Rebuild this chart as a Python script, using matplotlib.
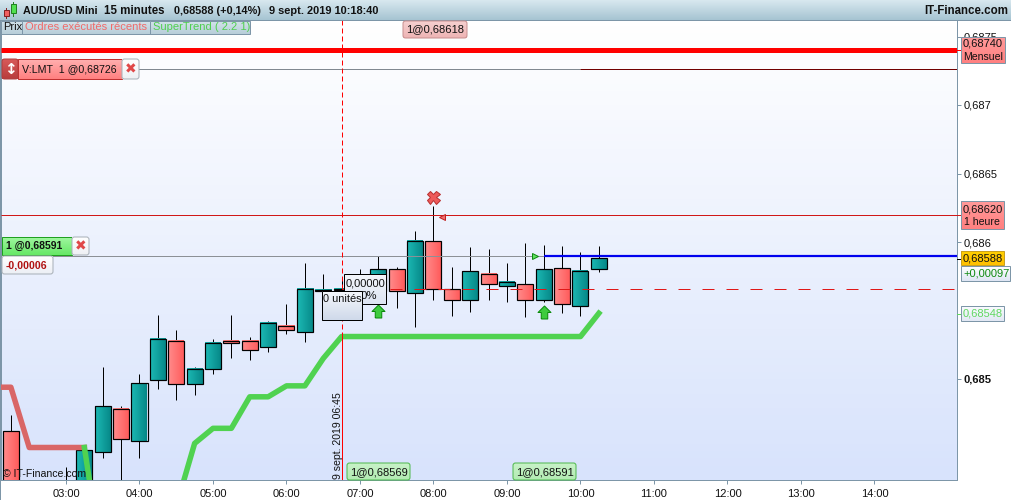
import numpy as np
import matplotlib
matplotlib.use('Agg')
import matplotlib.pyplot as plt
from matplotlib.colors import LinearSegmentedColormap
from matplotlib.patches import FancyBboxPatch, Rectangle
from matplotlib.path import Path

plt.rcParams['font.family'] = ['Liberation Sans', 'DejaVu Sans']

# candles
times = ['02:15', '03:00', '03:15', '03:30', '03:45', '04:00', '04:15', '04:30', '04:45', '05:00',
         '05:15', '05:30', '05:45', '06:00', '06:15', '06:30', '06:45', '07:00', '07:15', '07:30',
         '07:45', '08:00', '08:15', '08:30', '08:45', '09:00', '09:15', '09:30', '09:45', '10:00', '10:15']
opens = [0.68462, 0.68412, 0.68412, 0.68447, 0.68478, 0.68455, 0.68499, 0.68528, 0.68496, 0.68507,
         0.68528, 0.68528, 0.68523, 0.68539, 0.68534, 0.68564, 0.68565, 0.68561, 0.68564, 0.68580,
         0.68563, 0.68601, 0.68566, 0.68558, 0.68577, 0.68568, 0.68569, 0.68558, 0.68581, 0.68553, 0.68580]
highs = [0.68474, 0.68436, 0.68448, 0.68509, 0.68480, 0.68504, 0.68547, 0.68536, 0.68509, 0.68529,
         0.68547, 0.68531, 0.68542, 0.68555, 0.68585, 0.68577, 0.68572, 0.68580, 0.68590, 0.68582,
         0.68608, 0.68626, 0.68582, 0.68596, 0.68595, 0.68585, 0.68599, 0.68598, 0.68597, 0.68593, 0.68597]
lows = [0.68404, 0.68404, 0.68405, 0.68442, 0.68419, 0.68442, 0.68493, 0.68485, 0.68488, 0.68504,
        0.68515, 0.68514, 0.68520, 0.68533, 0.68527, 0.68545, 0.68547, 0.68547, 0.68558, 0.68552,
        0.68538, 0.68558, 0.68546, 0.68549, 0.68558, 0.68556, 0.68545, 0.68556, 0.68548, 0.68546, 0.68578]
closes = [0.68412, 0.68419, 0.68448, 0.68480, 0.68456, 0.68497, 0.68529, 0.68496, 0.68507, 0.68526,
          0.68526, 0.68521, 0.68541, 0.68536, 0.68566, 0.68565, 0.68566, 0.68574, 0.68580, 0.68564,
          0.68601, 0.68566, 0.68558, 0.68579, 0.68569, 0.68571, 0.68558, 0.68580, 0.68555, 0.68579, 0.68588]

# supertrend
st_red_times = ['02:00', '02:15', '02:30', '02:45', '03:00', '03:15']
st_red_vals = [0.68494, 0.68494, 0.68450, 0.68450, 0.68450, 0.68450]
st_green_times = ['03:15', '03:30', '03:45', '04:00', '04:15', '04:30', '04:45', '05:00', '05:15', '05:30',
                  '05:45', '06:00', '06:15', '06:30', '06:45', '07:00', '08:00', '09:00', '10:00', '10:15']
st_green_vals = [0.68450, 0.68363, 0.68363, 0.68363, 0.68363, 0.68407, 0.68453, 0.68464, 0.68464, 0.68487,
                 0.68487, 0.68495, 0.68495, 0.68515, 0.68531, 0.68531, 0.68531, 0.68531, 0.68531, 0.68548]

# levels
monthly_level = 0.68740
order_level = 0.68726
hourly_level = 0.68620
position_level = 0.68590
dashed_level = 0.68566
cursor_time = '06:45'
buy_arrow_times = ['07:15', '09:30']
buy_arrow_prices = [0.68550, 0.68549]
cross_time = ['08:00']
cross_price = [0.68633]
sell_tri_time = ['08:07']
sell_tri_price = [0.68618]
buy_tri_time = ['09:23']
buy_tri_price = [0.68590]

hour_ticks = ['03:00', '04:00', '05:00', '06:00', '07:00', '08:00', '09:00', '10:00', '11:00', '12:00', '13:00', '14:00']
price_ticks = [0.6875, 0.687, 0.6865, 0.686, 0.685]
price_tick_labels = ['0,6875', '0,687', '0,6865', '0,686', '0,685']

PX = 0.72
FRAME = '#7d96a8'


def hours(t):
    h, m = t.split(':')
    return int(h) + int(m) / 60.0


def hh(lst):
    return [hours(t) for t in lst]


def cmap2(c1, c2):
    return LinearSegmentedColormap.from_list('g', [c1, c2])


H_GRAD = np.linspace(0, 1, 32).reshape(1, -1)
V_GRAD = np.linspace(0, 1, 64).reshape(-1, 1)

fig = plt.figure(figsize=(10.12, 5.0), dpi=100, facecolor='white')
ax = fig.add_axes([1 / 1012, 20 / 500, 956 / 1012, 460 / 500])
ax.imshow(V_GRAD, cmap=cmap2('#ffffff', '#d8e3fc'), extent=(0, 1, 0, 1), transform=ax.transAxes,
          aspect='auto', zorder=0)

body_w = 16 / 73.5
teal = cmap2('#1cb9b4', '#068888')
red = cmap2('#ff8c8c', '#ff5c5c')
for t, o, h, l, c in zip(times, opens, highs, lows, closes):
    x = hours(t)
    ax.plot([x, x], [l, h], color='black', lw=1 * PX, zorder=2, solid_capstyle='butt')
    lo, hi = min(o, c), max(o, c)
    cm = teal if c >= o else red
    ax.imshow(H_GRAD, cmap=cm, extent=(x - body_w / 2, x + body_w / 2, lo, hi), aspect='auto', zorder=3)
    ax.add_patch(Rectangle((x - body_w / 2, lo), body_w, hi - lo, fill=False, ec='black', lw=1.2 * PX, zorder=3))

ax.plot(hh(st_red_times), st_red_vals, color='#d96666', lw=5.5 * PX, zorder=4)
ax.plot(hh(st_green_times), st_green_vals, color='#50d250', lw=5.5 * PX, zorder=4)

x_left, x_right = 3 - 65 / 73.5, 3 + 891 / 73.5
ax.hlines(monthly_level, x_left, x_right, color='#ff0000', lw=5 * PX, zorder=5)
ax.hlines(order_level, x_left, 10.0, color='#808890', lw=1 * PX, zorder=5)
ax.hlines(order_level, 10.0, x_right, color='#700000', lw=1 * PX, zorder=5)
ax.hlines(hourly_level, x_left, x_right, color='#d01818', lw=1 * PX, zorder=5)
ax.hlines(position_level, x_left, hours('09:30'), color='#8c9096', lw=1 * PX, zorder=5)
ax.hlines(position_level, hours('09:30'), x_right, color='#0000ee', lw=2.2 * PX, zorder=5)
ax.plot([hours(cursor_time), x_right], [dashed_level, dashed_level], color='#e01818', lw=1 * PX,
        ls=(0, (12, 12)), zorder=5)
ax.plot([hours(cursor_time)] * 2, [st_green_vals[14], 0.68762], color='#ff0000', lw=1 * PX, ls=(0, (5, 3)), zorder=5)
ax.plot([hours(cursor_time)] * 2, [0.6842, st_green_vals[14]], color='#ff0000', lw=1 * PX, zorder=5)

arrow = Path([(-0.25, -0.5), (0.25, -0.5), (0.25, 0), (0.5, 0), (0, 0.5), (-0.5, 0), (-0.25, 0), (-0.25, -0.5)])
ax.plot(hh(buy_arrow_times), buy_arrow_prices, ls='none', marker=arrow, ms=13 * PX, mfc='#3ecb3e', mec='#0a8a0a',
        mew=1 * PX, zorder=6)
ax.plot(hh(cross_time), cross_price, ls='none', marker='X', ms=13 * PX, mfc='#ee5a5a', mec='#b83030', mew=1 * PX, zorder=6)
ax.plot(hh(sell_tri_time), sell_tri_price, ls='none', marker='<', ms=6 * PX, mfc='#f07070', mec='#c02020', mew=1 * PX, zorder=6)
ax.plot(hh(buy_tri_time), buy_tri_price, ls='none', marker='>', ms=6 * PX, mfc='#60e060', mec='#108a10', mew=1 * PX, zorder=6)

ax.set_xlim(x_left, x_right)
ax.set_ylim(0.686 - 238 / 137000, 0.686 + 222 / 137000)
ax.set_xticks(hh(hour_ticks))
ax.set_xticklabels(hour_ticks, fontsize=8, color='#111111')
ax.yaxis.tick_right()
ax.set_yticks(price_ticks)
ax.set_yticklabels(price_tick_labels, fontsize=8, color='#111111')
ax.get_yticklabels()[-1].set_fontweight('bold')
ax.tick_params(axis='x', length=4 * PX, width=1 * PX, color=FRAME, pad=3.5)
ax.tick_params(axis='y', length=4 * PX, width=1 * PX, color=FRAME, pad=2)
ax.spines['top'].set_visible(False)
for s in ['left', 'right', 'bottom']:
    ax.spines[s].set_color(FRAME)
    ax.spines[s].set_linewidth(1 * PX)

# everything that is chrome goes on a pixel overlay
ov = fig.add_axes([0, 0, 1, 1])
ov.patch.set_alpha(0)
ov.axis('off')


def grad(x0, y0, x1, y1, c1, c2, z=1, vertical=True):
    ov.imshow(V_GRAD if vertical else H_GRAD, cmap=cmap2(c1, c2), extent=(x0, x1, y1, y0), aspect='auto',
              zorder=z, origin='upper')


def box(x0, y0, x1, y1, c1, c2, ec=FRAME, z=2, rounded=False, vertical=True):
    grad(x0, y0, x1, y1, c1, c2, z, vertical)
    if rounded:
        ov.add_patch(FancyBboxPatch((x0, y0), x1 - x0, y1 - y0, boxstyle='round,pad=0,rounding_size=2.5', fill=False,
                                    ec=ec, lw=1 * PX, zorder=z))
    else:
        ov.add_patch(Rectangle((x0, y0), x1 - x0, y1 - y0, fill=False, ec=ec, lw=1 * PX, zorder=z))


def txt(x, y, s, color='#111111', size=8, weight='normal', ha='left', z=3, **kw):
    ov.text(x, y, s, color=color, fontsize=size, fontweight=weight, ha=ha, va='center', zorder=z, **kw)


# header
grad(0, 0, 1012, 20, '#d8e8ef', '#a6c4d2')
ov.add_patch(Rectangle((4, 10), 5, 6, fc='#f06060', ec='#802020', lw=0.7, zorder=2))
ov.add_patch(Rectangle((11, 4), 5, 9, fc='#50e050', ec='#208020', lw=0.7, zorder=2))
ov.plot([6.5, 6.5], [8, 18], color='#802020', lw=0.7, zorder=1)
ov.plot([13.5, 13.5], [2, 16], color='#208020', lw=0.7, zorder=1)
txt(23, 11, 'AUD/USD Mini', weight='bold', size=7.8)
txt(104, 11, '15 minutes', weight='bold', size=8.3)
txt(174, 11, '0,68588 (+0,14%)', weight='bold', size=7.8)
txt(269, 11, '9 sept. 2019 10:18:40', weight='bold', size=7.9)
txt(1008, 11, 'IT-Finance.com', weight='bold', size=8.3, ha='right')

# legend tabs
box(1, 21, 22, 34, '#d2e2ea', '#b8ced9')
box(22, 21, 150, 34, '#d2e2ea', '#b8ced9')
box(150, 21, 250, 34, '#d2e2ea', '#b8ced9')
txt(3, 27.5, 'Prix', size=8)
txt(25, 27.5, 'Ordres exécutés récents', color='#f06a6a', size=8)
txt(153, 27.5, 'SuperTrend ( 2.2 1)', color='#4fcf4f', size=8)

# top execution label
box(403, 21, 467, 38, '#f6d0d0', '#eeb4b4', ec='#c89090', rounded=True)
txt(435, 29.5, '1@0,68618', ha='center', size=8)

# order tag on the left
box(2, 59, 18, 79, '#d85a5a', '#b83c3c', ec='#b04040', rounded=True)
txt(10, 69, '\u2195', color='white', size=11, weight='bold', ha='center', family='DejaVu Sans')
box(18, 59, 122, 79, '#ffb0b0', '#ff8080', ec='#c03030')
txt(22, 69, 'V:LMT  1 @0,68726', size=7.7)
box(122, 59, 139, 79, '#ffffff', '#eef0f4', ec='#a8b0b8', rounded=True)
txt(130.5, 69, '\u2716', color='#e04848', size=10, ha='center', family='DejaVu Sans')

# position tag
box(2, 237, 72, 255, '#a0f7a0', '#66e866', ec='#20a020')
txt(6, 246, '1 @0,68591', size=7.5, weight='bold')
box(72, 237, 89, 255, '#ffffff', '#eef0f4', ec='#a8b0b8', rounded=True)
txt(80.5, 246, '\u2716', color='#e04848', size=10, ha='center', family='DejaVu Sans')
box(2, 256, 53, 274, '#ffffff', '#eceff5', ec='#a8b0b8', rounded=True)
txt(6, 265, '-0,00006', color='#b01010', size=7.6, weight='bold')

# tooltips
box(344, 274, 386, 304, '#f4f6fb', '#dde4f2', ec='black', z=4)
txt(346, 283, '0,00000', z=5, size=8.0)
txt(377, 296, '0%', z=5, size=8.2, ha='right')
box(322, 291, 362, 320, '#f6f8fc', '#cfd9ea', ec='black', z=6)
txt(323.5, 299, '0 unités', z=7, size=7.9)

# bottom labels
box(347, 463, 410, 480, '#c8f2c8', '#b2ebb2', ec='#50b850', rounded=True)
txt(378.5, 472, '1@0,68569', ha='center', size=8)
box(513, 463, 576, 480, '#c8f2c8', '#b2ebb2', ec='#50b850', rounded=True)
txt(544.5, 472, '1@0,68591', ha='center', size=8)
txt(338, 436, '9 sept. 2019 06:45', size=7.6, rotation=90, ha='center')
txt(3, 474, '\u00a9 IT-Finance.com', size=7.6)

# right side labels
box(961, 37, 1005, 63, '#ff9a9a', '#ff8080')
txt(963, 44, '0,68740', size=8)
txt(963, 57, 'Mensuel', size=7.6)
box(961, 201, 1004, 229, '#ff9a9a', '#ff8080')
txt(963, 209, '0,68620', size=8)
txt(964, 222, '1 heure', size=7.6)
box(961, 251, 1004, 265, '#ffd000', '#ffc000', ec='#c8a020')
txt(963, 258.5, '0,68588', size=8)
box(961, 266, 1010, 281, '#ffffff', '#dfe6f4')
txt(963, 274, '+0,00097', color='#108a10', size=8)
box(961, 306, 1004, 321, '#fbfcff', '#e2e8f4')
txt(963, 314, '0,68548', color='#60d860', size=8)
ov.plot([957, 961], [50, 50], color='#ff0000', lw=1 * PX, zorder=1)
ov.plot([957, 961], [215, 215], color='#d01818', lw=1 * PX, zorder=1)
ov.plot([957, 961], [258.5, 258.5], color='black', lw=1 * PX, zorder=1)
ov.plot([957, 961], [313.5, 313.5], color='#60d860', lw=1 * PX, zorder=1)

# frame: left, bottom and under the header only
ov.plot([0.5, 0.5, 1012], [19.5, 499.5, 499.5], color=FRAME, lw=1 * PX, zorder=1)
ov.plot([0, 1012], [19.5, 19.5], color=FRAME, lw=1 * PX, zorder=1)

ov.set_xlim(0, 1012)
ov.set_ylim(500, 0)

fig.savefig('out.png', dpi=100)
